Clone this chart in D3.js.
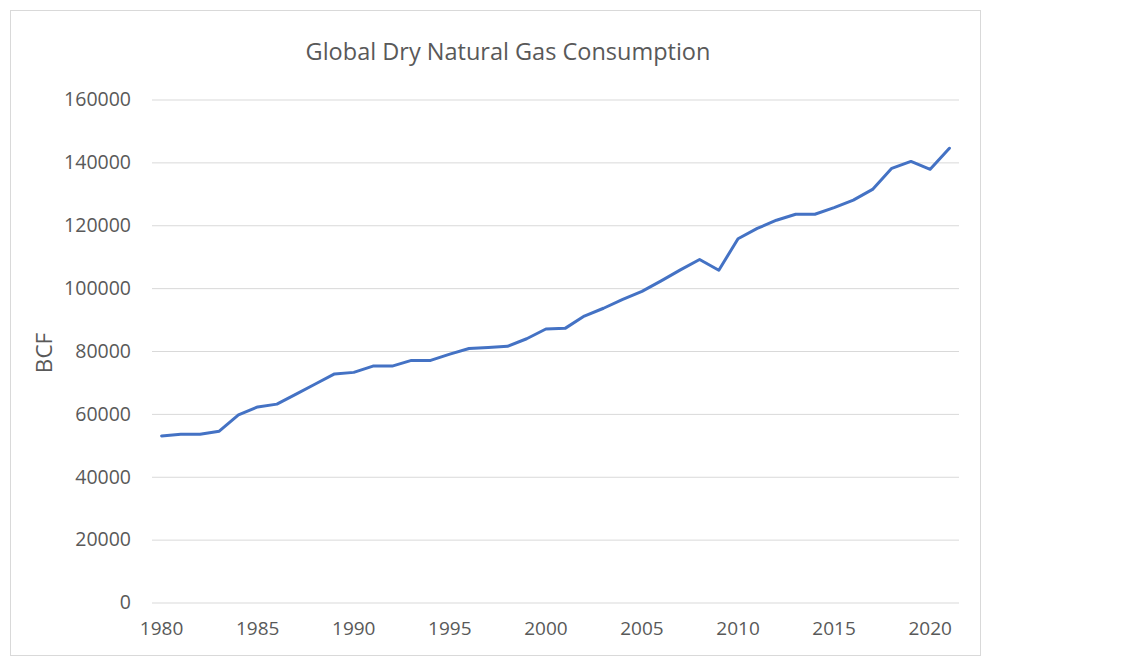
<!DOCTYPE html>
<html><head><meta charset="utf-8">
<script src="https://cdn.jsdelivr.net/npm/d3@7"></script>
<style>body{margin:0;background:#fff;} text{font-family:"Open Sans",sans-serif;fill:#595959;}</style>
</head><body>
<svg id="c" width="1127" height="660"></svg>
<script>
const years = d3.range(1980, 2022);
const consumption = [53000,53500,53500,54500,59700,62200,63100,66300,69500,72700,
  73200,75200,75200,77000,77000,79000,80800,81100,81500,83900,
  87000,87200,91100,93600,96400,98950,102300,105800,109100,105700,
  115700,119000,121600,123500,123500,125600,128000,131400,138100,140300,
  137800,144500];
const yTicks = [0,20000,40000,60000,80000,100000,120000,140000,160000];
const xTickLabels = [1980,1985,1990,1995,2000,2005,2010,2015,2020];
const title = "Global Dry Natural Gas Consumption";
const yLabel = "BCF";

const svg = d3.select("#c");
svg.append("rect").attr("x",10.5).attr("y",10.5).attr("width",970).attr("height",645)
  .attr("fill","#fff").attr("stroke","#d9d9d9").attr("stroke-width",1);

const x = d3.scaleBand().domain(years).range([152,959]);
const y = d3.scaleLinear().domain([0,160000]).range([602.5,99.5]);

const gy = svg.append("g").attr("transform","translate(152,0)")
  .call(d3.axisLeft(y).tickValues(yTicks).tickSize(-(959-152)).tickPadding(21).tickFormat(d3.format("d")));
gy.select(".domain").remove();
gy.selectAll(".tick line").attr("stroke","#d9d9d9").attr("stroke-width",1);
gy.selectAll(".tick text").attr("font-size","19.5px").style("fill","#595959").attr("font-family","'Open Sans',sans-serif");

const gx = svg.append("g").attr("transform","translate(0,602.5)")
  .call(d3.axisBottom(x).tickValues(xTickLabels).tickSize(0).tickPadding(19));
gx.select(".domain").remove();
gx.selectAll(".tick text").attr("font-size","19px").style("fill","#595959").attr("font-family","'Open Sans',sans-serif");

const line = d3.line().x((d,i)=>x(years[i])+x.bandwidth()/2).y(d=>y(d));
svg.append("path").datum(consumption).attr("d",line).attr("fill","none")
  .attr("stroke","#4472c4").attr("stroke-width",3).attr("stroke-linejoin","round").attr("stroke-linecap","round");

svg.append("text").attr("x",508).attr("y",60).attr("text-anchor","middle")
  .attr("font-size","23.5px").text(title);
svg.append("text").attr("transform","translate(52,353) rotate(-90)").attr("text-anchor","middle")
  .attr("font-size","22.5px").text(yLabel);
</script>
</body></html>
